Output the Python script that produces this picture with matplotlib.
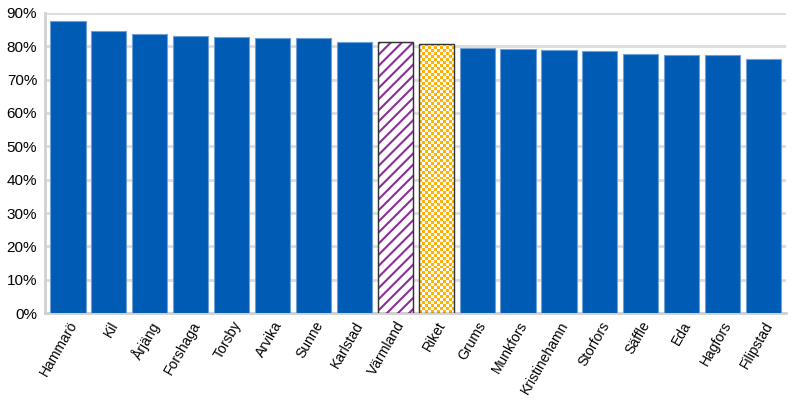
import numpy as np
import matplotlib
matplotlib.use("Agg")
import matplotlib.pyplot as plt
from matplotlib.ticker import PercentFormatter
from matplotlib.colors import ListedColormap

plt.rcParams['font.family'] = ['Liberation Sans', 'DejaVu Sans']
plt.rcParams['hatch.linewidth'] = 1.5

names = ['Hammarö', 'Kil', 'Årjäng', 'Forshaga', 'Torsby', 'Arvika', 'Sunne',
         'Karlstad', 'Värmland', 'Riket', 'Grums', 'Munkfors', 'Kristinehamn',
         'Storfors', 'Säffle', 'Eda', 'Hagfors', 'Filipstad']
values = [87.6, 84.6, 83.6, 82.9, 82.6, 82.5, 82.5, 81.3, 81.2, 80.6,
          79.6, 79.3, 78.8, 78.7, 77.8, 77.4, 77.4, 76.1]

blue = '#005BB5'
fig, ax = plt.subplots(figsize=(7.98, 4.0), dpi=100)
fig.subplots_adjust(left=0.057, right=0.985, top=0.968, bottom=0.217)

x = np.arange(len(names))
bars = ax.bar(x, values, width=0.86, color=blue, edgecolor='#6f9fd3', linewidth=0.8, zorder=3)

# Värmland: purple diagonal stripes
vb = bars[names.index('Värmland')]
vb.set_facecolor('white')
vb.set_hatch('///')
vb.set_edgecolor('#8a2f98')
ax.bar(vb.get_x() + vb.get_width() / 2, vb.get_height(), width=vb.get_width(),
       fill=False, edgecolor='#333333', linewidth=1, zorder=4)

# Riket: orange checkerboard
rb = bars[names.index('Riket')]
rb.set_facecolor('white')
nx = 12
ny = int(round(nx * rb.get_height() / rb.get_width() * (300 / 90) / 41.1))
cx, cy = np.meshgrid(np.arange(nx), np.arange(ny))
checker = ((cx + cy) % 2).astype(float)
im = ax.imshow(checker, cmap=ListedColormap(['#ffb000', 'white']), aspect='auto',
               interpolation='nearest', zorder=3.5,
               extent=(rb.get_x(), rb.get_x() + rb.get_width(), 0, rb.get_height()))
im.set_clip_path(rb)
ax.bar(rb.get_x() + rb.get_width() / 2, rb.get_height(), width=rb.get_width(),
       fill=False, edgecolor='#333333', linewidth=1, zorder=4)

ax.set_xlim(-0.55, len(names) - 0.45)
ax.set_ylim(0, 90)
ax.set_yticks(np.arange(0, 91, 10))
ax.yaxis.set_major_formatter(PercentFormatter(decimals=0))
ax.grid(axis='y', color='#dcdcdc', linewidth=2, zorder=0)
ax.set_xticks(x)
ax.set_xticklabels(names, rotation=60, ha='right', rotation_mode='anchor', fontsize=10)
ax.tick_params(axis='y', labelsize=11, length=0, pad=6)
ax.tick_params(axis='x', length=0, pad=4)
for s in ['top', 'right']:
    ax.spines[s].set_visible(False)
for s in ['left', 'bottom']:
    ax.spines[s].set_color('#d0d0d0')
    ax.spines[s].set_linewidth(2)

fig.savefig('out.png', dpi=100)
